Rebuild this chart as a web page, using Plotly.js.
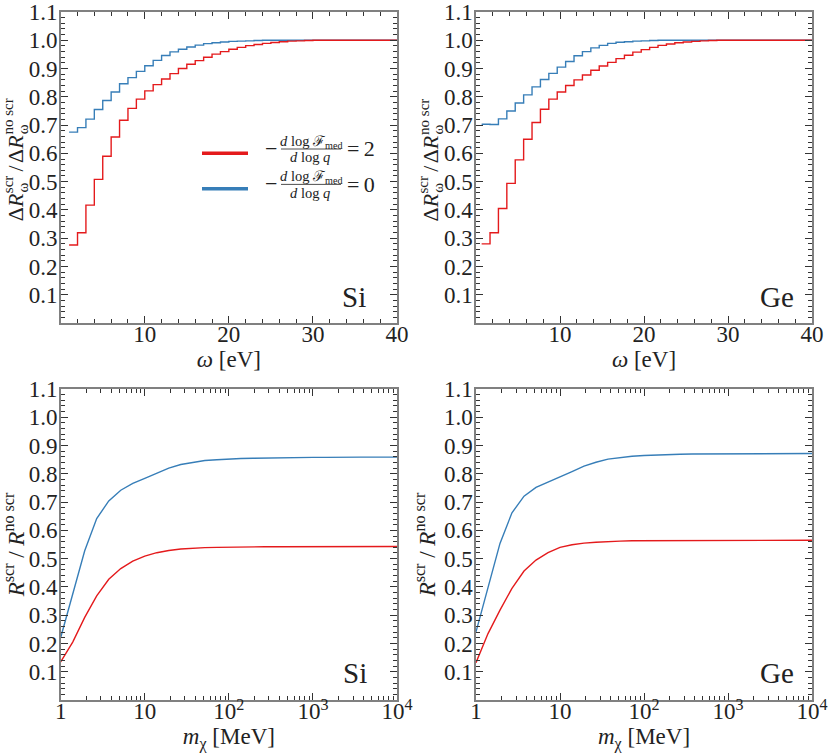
<!DOCTYPE html>
<html>
<head>
<meta charset="utf-8">
<script src="https://cdn.plot.ly/plotly-3.0.1.min.js"></script>
<style>html,body{margin:0;padding:0;background:#fff;}#chart{width:830px;height:754px;}</style>
</head>
<body>
<div id="chart"></div>
<script>
// ---------- data ----------
// top row: binned ratio vs omega [eV] (1 eV bins; value holds over [start, start+1])
const siBinStart = [1,2,3,4,5,6,7,8,9,10,11,12,13,14,15,16,17,18,19,20,21,22,23,24,25,26,27,28,29,30,31,32,33,34,35,36,37,38,39];
const siRedStep  = [0.276,0.319,0.417,0.508,0.590,0.658,0.717,0.759,0.792,0.821,0.843,0.863,0.882,0.900,0.915,0.928,0.940,0.951,0.960,0.968,0.975,0.981,0.985,0.989,0.992,0.995,0.997,0.998,0.999,1.0,1.0,1.0,1.0,1.0,1.0,1.0,1.0,1.0,1.0];
const siBlueStep = [0.675,0.691,0.721,0.755,0.787,0.817,0.846,0.868,0.890,0.910,0.929,0.946,0.959,0.968,0.976,0.983,0.988,0.991,0.994,0.996,0.997,0.998,0.999,1.0,1.0,1.0,1.0,1.0,1.0,1.0,1.0,1.0,1.0,1.0,1.0,1.0,1.0,1.0,1.0];

const geBinStart = [0.67,1.67,2.67,3.67,4.67,5.67,6.67,7.67,8.67,9.67,10.67,11.67,12.67,13.67,14.67,15.67,16.67,17.67,18.67,19.67,20.67,21.67,22.67,23.67,24.67,25.67,26.67,27.67,28.67,29.67,30.67,31.67,32.67,33.67,34.67,35.67,36.67,37.67,38.67,39.67];
const geRedStep  = [0.280,0.319,0.405,0.494,0.577,0.650,0.709,0.756,0.792,0.817,0.840,0.860,0.877,0.894,0.909,0.922,0.935,0.947,0.958,0.967,0.975,0.982,0.987,0.991,0.994,0.996,0.998,0.999,1.0,1.0,1.0,1.0,1.0,1.0,1.0,1.0,1.0,1.0,1.0,1.0];
const geBlueStep = [0.703,0.702,0.722,0.750,0.778,0.807,0.835,0.861,0.883,0.905,0.925,0.945,0.960,0.973,0.982,0.989,0.993,0.995,0.997,0.998,0.999,1.0,1.0,1.0,1.0,1.0,1.0,1.0,1.0,1.0,1.0,1.0,1.0,1.0,1.0,1.0,1.0,1.0,1.0,1.0];
const binWidth = 1;

// bottom row: total-rate ratio vs m_chi [MeV]
const mChi = [1,1.39,1.93,2.68,3.73,5.18,7.2,10,13.9,19.3,26.8,37.3,51.8,72,100,139,193,268,373,518,720,1000,1390,1930,2680,3730,5180,7200,10000];
const siRedRatio  = [0.135,0.205,0.292,0.368,0.427,0.465,0.491,0.509,0.521,0.529,0.534,0.537,0.539,0.540,0.541,0.541,0.542,0.542,0.542,0.542,0.543,0.543,0.543,0.543,0.543,0.543,0.543,0.543,0.543];
const siBlueRatio = [0.221,0.370,0.528,0.642,0.704,0.742,0.766,0.784,0.803,0.820,0.833,0.841,0.847,0.850,0.853,0.854,0.855,0.856,0.857,0.857,0.858,0.858,0.858,0.859,0.859,0.859,0.859,0.859,0.859];
const geRedRatio  = [0.132,0.235,0.318,0.395,0.456,0.495,0.521,0.540,0.549,0.555,0.558,0.561,0.562,0.563,0.563,0.564,0.564,0.564,0.565,0.565,0.565,0.565,0.565,0.565,0.565,0.565,0.565,0.565,0.565];
const geBlueRatio = [0.241,0.400,0.554,0.662,0.721,0.752,0.770,0.789,0.808,0.827,0.841,0.852,0.858,0.862,0.865,0.867,0.868,0.869,0.870,0.870,0.871,0.871,0.871,0.872,0.872,0.872,0.872,0.872,0.872];

const yTicks = [0.1,0.2,0.3,0.4,0.5,0.6,0.7,0.8,0.9,1.0,1.1];
const omegaTicks = [10,20,30,40];
const massTicks = [1,10,100,1000,10000];
const massTickText = ['1','10','10<sup>2</sup>','10<sup>3</sup>','10<sup>4</sup>'];
const materials = ['Si','Ge'];
const legendText = ['=\u20092','=\u20090'];

// ---------- styling ----------
const RED = '#e41a1c', BLUE = '#377eb8';
const FONT = 'Liberation Serif';
const TXT = '#222';
const W = 830, H = 754;
const PX = x => x / W, PY = y => 1 - y / H;

function stepTrace(starts, vals, color, xa, ya) {
  const x = starts.concat([starts[starts.length - 1] + binWidth]);
  const y = vals.concat([vals[vals.length - 1]]);
  return {x, y, type:'scatter', mode:'lines', line:{shape:'hv', color, width:1.4}, xaxis:xa, yaxis:ya, hoverinfo:'skip'};
}
function lineTrace(x, y, color, xa, ya) {
  return {x, y, type:'scatter', mode:'lines', line:{color, width:1.4}, xaxis:xa, yaxis:ya, hoverinfo:'skip'};
}

const traces = [
  stepTrace(siBinStart, siBlueStep, BLUE, 'x', 'y'),
  stepTrace(siBinStart, siRedStep, RED, 'x', 'y'),
  stepTrace(geBinStart, geBlueStep, BLUE, 'x2', 'y2'),
  stepTrace(geBinStart, geRedStep, RED, 'x2', 'y2'),
  lineTrace(mChi, siBlueRatio, BLUE, 'x3', 'y3'),
  lineTrace(mChi, siRedRatio, RED, 'x3', 'y3'),
  lineTrace(mChi, geBlueRatio, BLUE, 'x4', 'y4'),
  lineTrace(mChi, geRedRatio, RED, 'x4', 'y4')
];

const axBase = {
  showline:true, linecolor:'#808080', linewidth:1.6, mirror:'allticks',
  ticks:'inside', ticklen:7, tickwidth:1, tickcolor:'#333',
  showgrid:false, zeroline:false, automargin:false,
  tickfont:{family:FONT, size:23, color:TXT}
};
const minorLog = [];
[1,10,100,1000].forEach(d => { for (let k = 2; k <= 9; k++) minorLog.push(k*d); });
const minorOmega = [];
for (let v = 2; v < 40; v += 2) if (v % 10) minorOmega.push(v);

function omegaAxis(domain, anchor) {
  return Object.assign({}, axBase, {
    domain, anchor, range:[0,40], tickmode:'array', tickvals:omegaTicks, ticktext:omegaTicks.map(String),
    ticklabelstandoff:-10,
    minor:{tickmode:'array', tickvals:minorOmega, ticks:'inside', ticklen:4, tickcolor:'#333', tickwidth:1, showgrid:false},
    title:{text:'<i>ω</i> [eV]', font:{family:FONT, size:23, color:TXT}, standoff:2}
  });
}
function massAxis(domain, anchor) {
  return Object.assign({}, axBase, {
    domain, anchor, type:'log', range:[0,4], tickmode:'array', tickvals:massTicks, ticktext:massTickText,
    ticklabelstandoff:-10,
    minor:{tickmode:'array', tickvals:minorLog, ticks:'inside', ticklen:4, tickcolor:'#333', tickwidth:1, showgrid:false},
    title:{text:'<i>m</i><sub>χ</sub> [MeV]', font:{family:FONT, size:23, color:TXT}, standoff:3}
  });
}
function ratioAxis(domain, anchor, title) {
  const ax = Object.assign({}, axBase, {
    domain, anchor, range:[0,1.1], tickmode:'array', tickvals:yTicks, ticktext:yTicks.map(v => v.toFixed(1)),
    ticklabelstandoff:-3,
    minor:{dtick:0.02, tick0:0, ticks:'inside', ticklen:4, tickcolor:'#333', tickwidth:1, showgrid:false}
  });
  if (title) ax.title = {text:title, font:{family:FONT, size:23, color:TXT}, standoff:2};
  return ax;
}

const xL = [PX(60.7), PX(397)], xR = [PX(476), PX(812)];
const yT = [PY(323), PY(12)], yB = [PY(700), PY(389)];
const botTitle = '<i>R</i><sup>scr</sup> / <i>R</i><sup>no scr</sup>';

const annotations = [];
const shapes = [];

// top-row y titles: ΔR with stacked sub/superscripts, rotated (built from text pieces)
const cv = document.createElement('canvas').getContext('2d');
function textW(s, size, italic) { cv.font = (italic ? 'italic ' : '') + size + 'px "' + FONT + '"'; return cv.measureText(s).width; }
function rotatedRatioTitle(xMain, yCenter) {
  const M = 22, S = 15;
  const pieces = [
    {kind:'main', text:'Δ<i>R</i>', w:textW('Δ', M) + textW('R', M, true) + 1},
    {kind:'stack', sup:'scr', sub:'ω', w:Math.max(textW('scr', S), textW('ω', S)) + 2},
    {kind:'main', text:'/', w:textW('/', M) + 4},
    {kind:'main', text:'Δ<i>R</i>', w:textW('Δ', M) + textW('R', M, true) + 1},
    {kind:'stack', sup:'no scr', sub:'ω', w:Math.max(textW('no scr', S), textW('ω', S))}
  ];
  const total = pieces.reduce((a, p) => a + p.w, 0);
  let s = yCenter + total / 2;
  const base = {xref:'paper', yref:'paper', xanchor:'center', yanchor:'middle', showarrow:false, textangle:-90, borderpad:0};
  pieces.forEach(p => {
    if (p.kind === 'main') {
      annotations.push(Object.assign({}, base, {x:PX(xMain), y:PY(s - p.w / 2), text:p.text, font:{family:FONT, size:M, color:TXT}}));
    } else {
      const wSup = textW(p.sup, S), wSub = textW(p.sub, S);
      annotations.push(Object.assign({}, base, {x:PX(xMain - 7), y:PY(s - wSup / 2), text:p.sup, font:{family:FONT, size:S, color:TXT}}));
      annotations.push(Object.assign({}, base, {x:PX(xMain + 7.5), y:PY(s - wSub / 2), text:p.sub, font:{family:FONT, size:S, color:TXT}}));
    }
    s -= p.w;
  });
}
rotatedRatioTitle(15, 160);
rotatedRatioTitle(15 + 415.3, 160);

// material labels
[[368,297],[796,297],[369,673],[796,673]].forEach((p, i) => {
  annotations.push({xref:'paper', yref:'paper', x:PX(p[0]), y:PY(p[1]), xanchor:'right', yanchor:'middle',
    text:materials[i % 2], showarrow:false, font:{family:FONT, size:29, color:TXT}});
});
// legend (top-left panel)
[[153.3, RED], [188.7, BLUE]].forEach((row, i) => {
  const yl = row[0], bar = yl - 4.3;
  shapes.push({type:'line', xref:'paper', yref:'paper', x0:PX(202), x1:PX(248), y0:PY(yl), y1:PY(yl), line:{color:row[1], width:3.4}});
  shapes.push({type:'line', xref:'paper', yref:'paper', x0:PX(281), x1:PX(341), y0:PY(bar), y1:PY(bar), line:{color:TXT, width:0.8}});
  annotations.push({xref:'paper', yref:'paper', x:PX(271), y:PY(bar - 1), xanchor:'center', yanchor:'middle', borderpad:0, text:'−', showarrow:false, font:{family:FONT, size:22, color:TXT}});
  annotations.push({xref:'paper', yref:'paper', x:PX(311), y:PY(bar - 7), xanchor:'center', yanchor:'middle', borderpad:0, text:'<i>d</i> log ℱ<sub>med</sub>', showarrow:false, font:{family:FONT, size:14.5, color:TXT}});
  annotations.push({xref:'paper', yref:'paper', x:PX(310), y:PY(bar + 8.5), xanchor:'center', yanchor:'middle', borderpad:0, text:'<i>d</i> log <i>q</i>', showarrow:false, font:{family:FONT, size:14.5, color:TXT}});
  annotations.push({xref:'paper', yref:'paper', x:PX(346), y:PY(bar), xanchor:'left', yanchor:'middle', borderpad:0, text:legendText[i], showarrow:false, font:{family:FONT, size:22, color:TXT}});
});

const layout = {
  width:W, height:H, margin:{l:0, r:0, t:0, b:0},
  paper_bgcolor:'#fff', plot_bgcolor:'#fff', showlegend:false,
  font:{family:FONT, color:TXT},
  xaxis: omegaAxis(xL, 'y'),
  yaxis: ratioAxis(yT, 'x', null),
  xaxis2: omegaAxis(xR, 'y2'),
  yaxis2: ratioAxis(yT, 'x2', null),
  xaxis3: massAxis(xL, 'y3'),
  yaxis3: ratioAxis(yB, 'x3', botTitle),
  xaxis4: massAxis(xR, 'y4'),
  yaxis4: ratioAxis(yB, 'x4', botTitle),
  annotations, shapes
};
Plotly.newPlot('chart', traces, layout, {displayModeBar:false, staticPlot:true});
</script>
</body>
</html>
